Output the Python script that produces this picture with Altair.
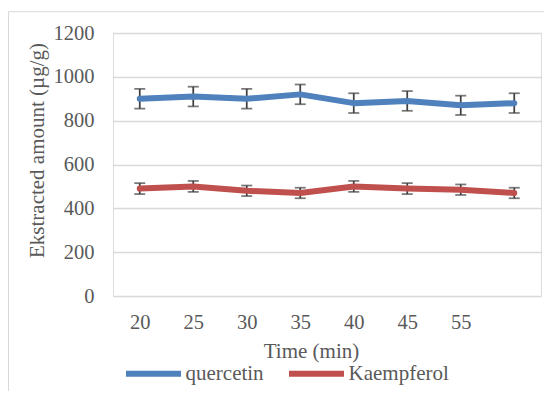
import altair as alt
import pandas as pd

# ---- data ----
times = ["20", "25", "30", "35", "40", "45", "55", ""]
quercetin = [900, 910, 900, 920, 880, 890, 870, 880]
quercetin_err = [45, 45, 45, 45, 45, 45, 44, 45]
kaempferol = [490, 500, 480, 470, 500, 490, 485, 470]
kaempferol_err = [25, 25, 24, 24, 25, 25, 24, 24]
series = ["quercetin", "Kaempferol"]
colors = ["#4F81BD", "#C0504D"]
y_ticks = [0, 200, 400, 600, 800, 1000, 1200]

rows = []
for name, vals, errs in [(series[0], quercetin, quercetin_err),
                         (series[1], kaempferol, kaempferol_err)]:
    for t, v, e in zip(times, vals, errs):
        rows.append({"time": t, "series": name, "value": v, "lo": v - e, "hi": v + e})
df = pd.DataFrame(rows)

FONT = "'Liberation Serif', 'Times New Roman', Times, serif"
TXT = "#595959"

x_enc = alt.X(
    "time:O", sort=times,
    scale=alt.Scale(type="point", padding=0.5),
    axis=alt.Axis(
        title="Time (min)", labelAngle=0, ticks=False, domain=False, grid=False,
        labelPadding=32, labelBaseline="alphabetic",
        titleX=198, titleY=61, titleBaseline="alphabetic",
    ),
)
y_scale = alt.Scale(domain=[0, 1200], nice=False)
y_axis = alt.Axis(
    values=y_ticks, format="d", title="Ekstracted amount (µg/g)", ticks=False, domain=False,
    labelPadding=19,
    titleAngle=270, titleX=-76, titleY=117, titleBaseline="middle",
)

base = alt.Chart(df)

rules = base.mark_rule(color="#404040", strokeWidth=1.75).encode(
    x=x_enc, y=alt.Y("lo:Q", scale=y_scale, axis=y_axis), y2="hi:Q"
)
tick_lo = base.mark_tick(color="#404040", thickness=1.75, size=11).encode(
    x=x_enc, y=alt.Y("lo:Q", scale=y_scale, axis=y_axis)
)
tick_hi = base.mark_tick(color="#404040", thickness=1.75, size=11).encode(
    x=x_enc, y=alt.Y("hi:Q", scale=y_scale, axis=y_axis)
)
lines = base.mark_line(strokeWidth=6, strokeCap="round", strokeJoin="round").encode(
    x=x_enc,
    y=alt.Y("value:Q", scale=y_scale, axis=y_axis),
    color=alt.Color(
        "series:N", sort=series,
        scale=alt.Scale(domain=series, range=colors),
        legend=alt.Legend(
            title=None, orient="none", legendX=10, legendY=310, direction="horizontal",
            symbolType="stroke", symbolSize=3025, symbolStrokeWidth=6,
            labelOffset=1.5, columnPadding=13, padding=0,
        ),
    ),
)

frame = alt.Chart(pd.DataFrame({"k": [0]})).mark_rect(
    fill=None, stroke="#D9D9D9", strokeWidth=1
).encode(
    x=alt.value(-104.5), x2=alt.value(460), y=alt.value(-21.3), y2=alt.value(420)
)

chart = alt.layer(frame, rules, tick_lo, tick_hi, lines).properties(
    width=428, height=263,
    autosize=alt.AutoSizeParams(type="none"),
    padding={"left": 105, "top": 25, "right": 3, "bottom": 95},
).configure_view(stroke=None).configure(
    background="white", font=FONT
).configure_axis(
    labelFont=FONT, labelFontSize=20.5, labelColor=TXT,
    titleFont=FONT, titleFontSize=21, titleColor=TXT, titleFontWeight="normal",
    gridColor="#D9D9D9", gridWidth=1.3, tickSize=0,
).configure_legend(
    labelFont=FONT, labelFontSize=21, labelColor=TXT,
)

chart.save("out.html", embed_options={"renderer": "svg", "actions": False})
